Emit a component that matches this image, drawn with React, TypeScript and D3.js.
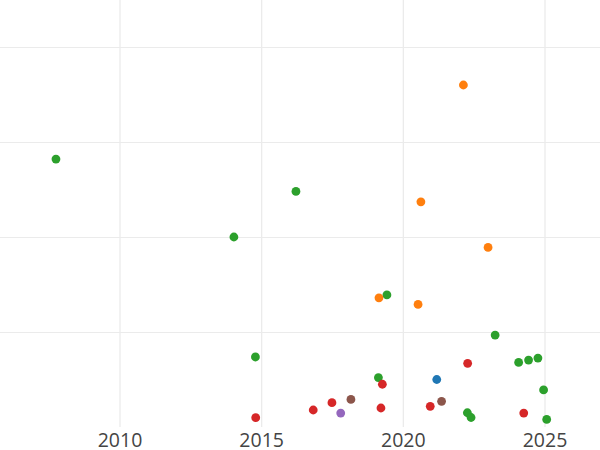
import React from "react";
import * as d3 from "d3";

const greenYears = [2007.74, 2014.02, 2016.21, 2019.42, 2014.78, 2019.12, 2023.24, 2024.07, 2024.42, 2024.75, 2024.95, 2022.26, 2022.39, 2025.06];
const greenValues = [2.82, 2.0, 2.48, 1.39, 0.737, 0.52, 0.968, 0.68, 0.705, 0.726, 0.39, 0.15, 0.1, 0.08];
const orangeYears = [2022.12, 2020.62, 2022.99, 2019.14, 2020.52];
const orangeValues = [3.6, 2.37, 1.89, 1.36, 1.29];
const redYears = [2014.79, 2016.82, 2017.48, 2019.26, 2019.21, 2022.27, 2020.95, 2024.25];
const redValues = [0.098, 0.179, 0.256, 0.45, 0.2, 0.67, 0.218, 0.147];
const purpleYears = [2017.79];
const purpleValues = [0.147];
const brownYears = [2018.15, 2021.35];
const brownValues = [0.29, 0.27];
const blueYears = [2021.18];
const blueValues = [0.5];

const xTicks = [2010, 2015, 2020, 2025];
const yGrid = [1, 2, 3, 4];

const series = [
  { color: "#2ca02c", xs: greenYears, ys: greenValues },
  { color: "#ff7f0e", xs: orangeYears, ys: orangeValues },
  { color: "#d62728", xs: redYears, ys: redValues },
  { color: "#9467bd", xs: purpleYears, ys: purpleValues },
  { color: "#8c564b", xs: brownYears, ys: brownValues },
  { color: "#1f77b4", xs: blueYears, ys: blueValues },
];

export default function App() {
  const W = 600, H = 450;
  const plotBottom = 427;
  const x = d3.scaleLinear().domain([2010, 2025]).range([120, 545]);
  const y = d3.scaleLinear().domain([0, 1]).range([plotBottom, plotBottom - 95]);
  return (
    <div style={{ position: "fixed", left: 0, top: 0 }}>
      <svg width={W} height={H} style={{ display: "block", background: "#fff" }}>
        {yGrid.map((v) => (
          <line key={"h" + v} x1={0} x2={W} y1={Math.round(y(v)) + 0.5} y2={Math.round(y(v)) + 0.5} stroke="#ebebeb" strokeWidth={1} />
        ))}
        {xTicks.map((t) => (
          <line key={"v" + t} x1={x(t)} x2={x(t)} y1={0} y2={plotBottom} stroke="#ebebeb" strokeWidth={1.3} />
        ))}
        {xTicks.map((t) => (
          <text key={"t" + t} x={x(t)} y={447} textAnchor="middle" fontFamily="'Open Sans', sans-serif" fontSize={19.5} fill="#444">
            {t}
          </text>
        ))}
        {series.map((s, si) =>
          s.xs.map((xv, i) => (
            <circle key={si + "-" + i} cx={x(xv)} cy={y(s.ys[i])} r={4.4} fill={s.color} />
          ))
        )}
      </svg>
    </div>
  );
}
